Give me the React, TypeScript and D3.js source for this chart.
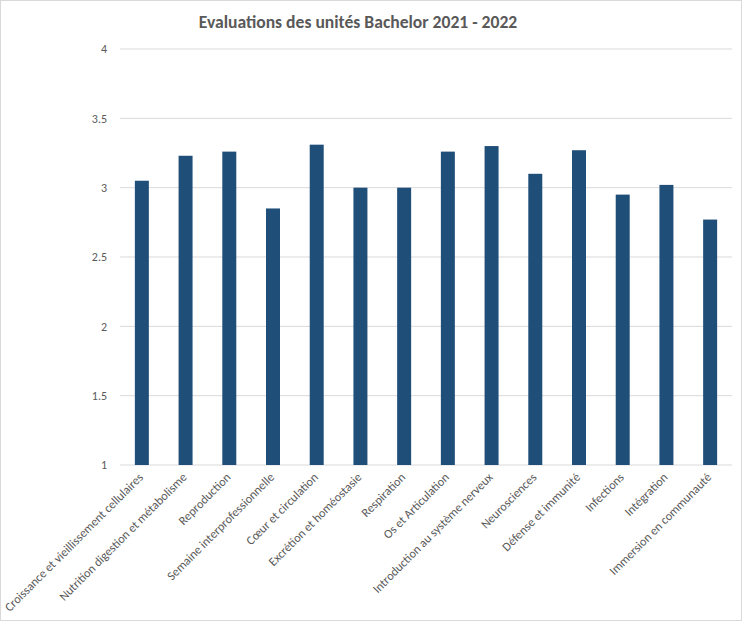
import React from "react";
import * as d3 from "d3";

const categories = [
  "Croissance et vieillissement cellulaires",
  "Nutrition digestion et métabolisme",
  "Reproduction",
  "Semaine interprofessionnelle",
  "Cœur et circulation",
  "Excrétion et homéostasie",
  "Respiration",
  "Os et Articulation",
  "Introduction au système nerveux",
  "Neurosciences",
  "Défense et immunité",
  "Infections",
  "Intégration",
  "Immersion en communauté",
];
const values = [3.05, 3.23, 3.26, 2.85, 3.31, 3.0, 3.0, 3.26, 3.3, 3.1, 3.27, 2.95, 3.02, 2.77];
const yTicks = [1, 1.5, 2, 2.5, 3, 3.5, 4];
const title = "Evaluations des unités Bachelor 2021 - 2022";

const W = 743;
const H = 632;
const FONT = "Carlito, Calibri, 'Liberation Sans', Arial, sans-serif";

export default function App() {
  const x = d3.scaleBand<string>().domain(categories).range([120, 732]).paddingInner(0.68).paddingOuter(0.34);
  const y = d3.scaleLinear().domain([1, 4]).range([465, 49]);
  return (
    <svg width={W} height={H} style={{ position: "absolute", left: 0, top: 0, background: "#fff" }} fontFamily={FONT}>
      <rect x={0.5} y={0.5} width={W - 2} height={H - 12} fill="#fff" stroke="#d9d9d9" />
      <text x={358} y={28} textAnchor="middle" fontSize={17.6} fontWeight="bold" fill="#595959">{title}</text>
      {yTicks.map((t) => (
        <g key={t}>
          <line x1={120} x2={732} y1={y(t)} y2={y(t)} stroke="#d9d9d9" strokeWidth={1} />
          <text x={107} y={y(t)} dy="0.35em" textAnchor="end" fontSize={12} fill="#595959">{t}</text>
        </g>
      ))}
      {categories.map((c, i) => (
        <rect key={c} x={x(c)} y={y(values[i])} width={x.bandwidth()} height={y(1) - y(values[i])} fill="#1f4e79" />
      ))}
      {categories.map((c) => {
        const cx = (x(c) as number) + x.bandwidth() / 2;
        return (
          <text key={c} transform={`translate(${cx + 2},${478}) rotate(-45)`} textAnchor="end" fontSize={12.3} fill="#595959">{c}</text>
        );
      })}
    </svg>
  );
}
